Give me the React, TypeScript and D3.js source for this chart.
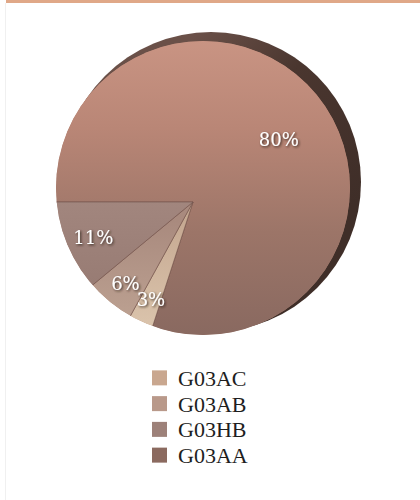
import React from "react";
import * as d3 from "d3";

const categories = ["G03AA", "G03AC", "G03AB", "G03HB"];
const values = [80, 3, 6, 11];
const labels = ["80%", "3%", "6%", "11%"];
const legendOrder = ["G03AC", "G03AB", "G03HB", "G03AA"];
const legendColors: Record<string, string> = {
  G03AC: "#c9a78f",
  G03AB: "#b9998a",
  G03HB: "#9d8179",
  G03AA: "#8b6a5f",
};
const sliceFills: Record<string, string> = {
  G03AA: "url(#gAA)",
  G03AC: "url(#gAC)",
  G03AB: "url(#gAB)",
  G03HB: "url(#gHB)",
};

const W = 420;
const H = 500;
const apex = { x: 193, y: 202 };
const face = { x: 203, y: 188, r: 147 };
const rim = { x: 211, y: 182, r: 150 };

export default function App() {
  const pie = d3
    .pie<number>()
    .sort(null)
    .startAngle(-Math.PI / 2)
    .endAngle((3 * Math.PI) / 2);
  const arcs = pie(values);
  const arc = d3.arc<d3.PieArcDatum<number>>().innerRadius(0).outerRadius(175);
  const labelArc = d3
    .arc<d3.PieArcDatum<number>>()
    .innerRadius(104)
    .outerRadius(108);

  const legendY = d3
    .scaleBand<string>()
    .domain(legendOrder)
    .range([365, 468])
    .paddingInner(0);

  const oy = -apex.y;

  return (
    <svg
      width={W}
      height={H}
      style={{ position: "absolute", left: 0, top: 0, display: "block" }}
    >
      <defs>
        <linearGradient id="gAA" gradientUnits="userSpaceOnUse" x1="0" y1={40 + oy} x2="0" y2={336 + oy}>
          <stop offset="0" stopColor="#c99483" />
          <stop offset="0.3" stopColor="#b98676" />
          <stop offset="0.65" stopColor="#9c7568" />
          <stop offset="1" stopColor="#896960" />
        </linearGradient>
        <linearGradient id="gHB" gradientUnits="userSpaceOnUse" x1="0" y1={200 + oy} x2="0" y2={300 + oy}>
          <stop offset="0" stopColor="#a2867e" />
          <stop offset="1" stopColor="#967a72" />
        </linearGradient>
        <linearGradient id="gAB" gradientUnits="userSpaceOnUse" x1="0" y1={220 + oy} x2="0" y2={330 + oy}>
          <stop offset="0" stopColor="#a98a7e" />
          <stop offset="1" stopColor="#bea393" />
        </linearGradient>
        <linearGradient id="gAC" gradientUnits="userSpaceOnUse" x1="0" y1={220 + oy} x2="0" y2={336 + oy}>
          <stop offset="0" stopColor="#c6a992" />
          <stop offset="1" stopColor="#dcc6ae" />
        </linearGradient>
        <linearGradient id="gRim" gradientUnits="userSpaceOnUse" x1="200" y1="30" x2="360" y2="200">
          <stop offset="0" stopColor="#6a5048" />
          <stop offset="0.4" stopColor="#4a362f" />
          <stop offset="1" stopColor="#3f2e28" />
        </linearGradient>
        <clipPath id="faceClip">
          <circle cx={face.x} cy={face.y} r={face.r} />
        </clipPath>
        <filter id="shadow" x="-20%" y="-20%" width="140%" height="140%">
          <feDropShadow dx="1.2" dy="1.2" stdDeviation="1" floodColor="#2a1a14" floodOpacity="0.85" />
        </filter>
      </defs>

      <rect x={0} y={0} width={W} height={H} fill="#ffffff" />
      <rect x={6} y={0} width={W - 6} height={3} fill="#e0a888" />
      <rect x={5} y={3} width={1} height={H - 3} fill="#f0f0f0" />

      <circle cx={rim.x} cy={rim.y} r={rim.r} fill="url(#gRim)" />

      <g clipPath="url(#faceClip)">
        <circle cx={face.x} cy={face.y} r={face.r} fill="#b08070" />
        <g transform={`translate(${apex.x},${apex.y})`}>
          {arcs.map((a, i) => (
            <path
              key={categories[i]}
              d={arc(a) || ""}
              fill={sliceFills[categories[i]]}
              stroke="#6f5048"
              strokeOpacity={0.55}
              strokeWidth={1}
            />
          ))}
        </g>
      </g>

      <g transform={`translate(${apex.x},${apex.y})`}>
        {arcs.map((a, i) => {
          const [cx, cy] = labelArc.centroid(a);
          return (
            <text
              key={labels[i]}
              x={cx}
              y={cy}
              dy="0.35em"
              textAnchor="middle"
              fill="#ffffff"
              fontFamily="'DejaVu Serif', 'Liberation Serif', serif"
              fontSize={18}
              filter="url(#shadow)"
            >
              {labels[i]}
            </text>
          );
        })}
      </g>

      <g>
        {legendOrder.map((name) => {
          const y = (legendY(name) || 0) + legendY.bandwidth() / 2;
          return (
            <g key={name}>
              <rect x={152} y={y - 7.5} width={15} height={15} fill={legendColors[name]} />
              <text
                x={178}
                y={y}
                dy="0.36em"
                fill="#1e1e1e"
                fontFamily="'Liberation Serif', serif"
                fontSize={22}
              >
                {name}
              </text>
            </g>
          );
        })}
      </g>
    </svg>
  );
}
